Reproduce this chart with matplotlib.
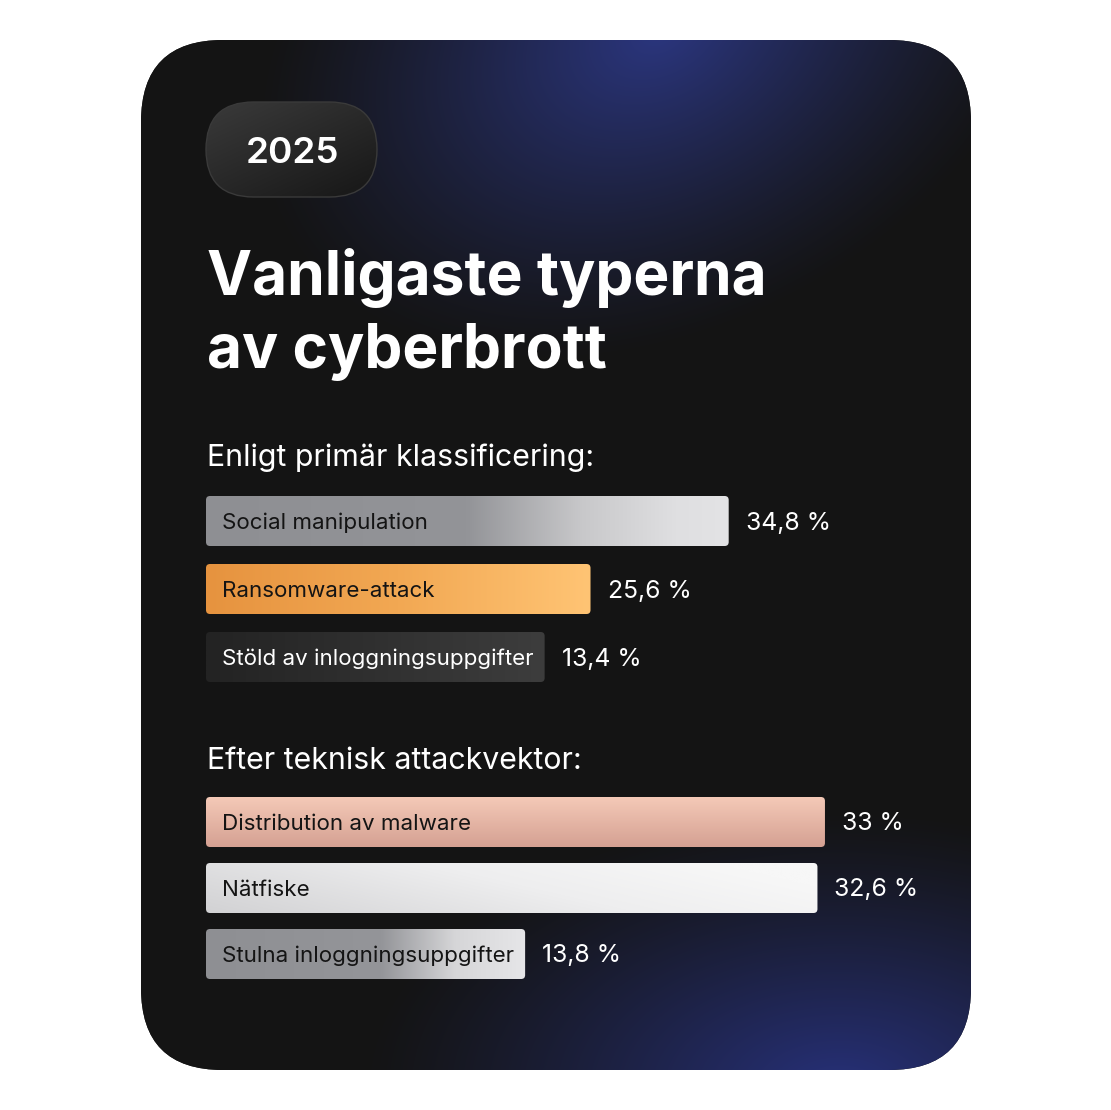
import numpy as np
import matplotlib
matplotlib.use("Agg")
import matplotlib.pyplot as plt
from matplotlib.patches import FancyBboxPatch
from matplotlib import transforms
from matplotlib.colors import to_rgb

# ---------------- data ----------------
year = "2025"
title_lines = ["Vanligaste typerna", "av cyberbrott"]
group1_title = "Enligt primär klassificering:"
group1_labels = ["Social manipulation", "Ransomware-attack", "Stöld av inloggningsuppgifter"]
group1_values = [34.8, 25.6, 13.4]
group2_title = "Efter teknisk attackvektor:"
group2_labels = ["Distribution av malware", "Nätfiske", "Stulna inloggningsuppgifter"]
group2_values = [33.0, 32.6, 13.8]

# ---------------- style ----------------
W, H, DPI = 1111, 1110, 100
FONT = ["Inter", "DejaVu Sans"]
plt.rcParams["font.family"] = FONT

# gradient specs: (direction, [(pos, color), ...], text colour)
group1_styles = [
    ("h", [(0, "#8e8f93"), (0.5, "#939498"), (0.72, "#c8c8ca"), (0.9, "#dfdfe1"), (1, "#e3e3e5")], "#141414"),
    ("h", [(0, "#e6933f"), (0.5, "#f2a853"), (1, "#ffc474")], "#141414"),
    ("h", [(0, "#232323"), (1, "#3d3d3d")], "#ffffff"),
]
group2_styles = [
    ("v", [(0, "#f4c9b7"), (1, "#d5a193")], "#141414"),
    ("d", [(0, "#d2d2d4"), (0.6, "#eeeeef"), (1, "#f7f7f7")], "#141414"),
    ("h", [(0, "#8e8f93"), (0.55, "#949599"), (0.78, "#d6d6d8"), (1, "#e6e6e8")], "#141414"),
]


def fmt(v):
    s = f"{v:.1f}".replace(".", ",")
    if s.endswith(",0"):
        s = s[:-2]
    return s + " %"


def ramp(stops, t):
    pos = [p for p, _ in stops]
    cols = np.array([to_rgb(c) for _, c in stops])
    return np.stack([np.interp(t, pos, cols[:, k]) for k in range(3)], axis=-1)


def grad_img(kind, stops, n=200, m=40):
    tx = np.linspace(0, 1, n)[None, :].repeat(m, 0)
    ty = np.linspace(0, 1, m)[:, None].repeat(n, 1)
    if kind == "h":
        t = tx
    elif kind == "v":
        t = ty
    else:
        t = np.clip(0.85 * tx + 0.3 * (1 - ty), 0, 1)
    return ramp(stops, t)


fig = plt.figure(figsize=(W / DPI, H / DPI), dpi=DPI)
fig.patch.set_facecolor("white")

# ---------------- background card (pixel space) ----------------
bg = fig.add_axes([0, 0, 1, 1])
bg.set_xlim(0, W)
bg.set_ylim(H, 0)
bg.axis("off")

cx0, cy0, cx1, cy1 = 141, 40, 971, 1070
card = FancyBboxPatch((cx0, cy0), cx1 - cx0, cy1 - cy0,
                      boxstyle="round,pad=0,rounding_size=82",
                      fc="#141414", ec="none", zorder=0)
bg.add_patch(card)

yy, xx = np.mgrid[cy0:cy1, cx0:cx1] + 0.5
base = np.array(to_rgb("#141414"))
b1 = np.array(to_rgb("#2b367f"))
b2 = np.array(to_rgb("#27317a"))
ang = np.deg2rad(-28)
dx, dy = xx - 660, yy - 30
u = dx * np.cos(ang) + dy * np.sin(ang)
v = -dx * np.sin(ang) + dy * np.cos(ang)
d1 = np.sqrt((u / 430) ** 2 + (v / 300) ** 2)
w1 = np.clip(1 - d1, 0, 1) ** 1.2
d2 = np.sqrt(((xx - 840) / 480) ** 2 + ((yy - 1090) / 280) ** 2)
w2 = np.clip(1 - d2, 0, 1) ** 1.2
glow = base + (b1 - base) * w1[..., None] + (b2 - base) * w2[..., None]
im = bg.imshow(np.clip(glow, 0, 1), extent=(cx0, cx1, cy1, cy0), zorder=1,
               interpolation="bilinear", aspect="auto")
im.set_clip_path(card)

# ---------------- year pill ----------------
px0, py0, pw, ph = 206, 102, 171, 95
pill = FancyBboxPatch((px0, py0), pw, ph, boxstyle=f"round,pad=0,rounding_size={ph/2}",
                      fc="none", ec="#3a3a3a", lw=1.0, zorder=3)
bg.add_patch(pill)
tx = np.linspace(0, 1, 120)[None, :].repeat(60, 0)
ty = np.linspace(0, 1, 60)[:, None].repeat(120, 1)
pimg = ramp([(0, "#3a3a3a"), (1, "#1a1a1a")], np.clip(0.5 * tx + 0.6 * ty, 0, 1))
pim = bg.imshow(pimg, extent=(px0, px0 + pw, py0 + ph, py0), zorder=2,
                interpolation="bilinear", aspect="auto")
pim.set_clip_path(pill)
bg.text(px0 + pw / 2 + 1, 163, year, color="white", fontsize=26.5, fontweight="semibold",
        ha="center", va="baseline", zorder=4)

# ---------------- title ----------------
bg.text(207, 295, title_lines[0], color="white", fontsize=43.5, fontweight="bold",
        va="baseline", zorder=4)
bg.text(207, 368, title_lines[1], color="white", fontsize=43.5, fontweight="bold",
        va="baseline", zorder=4)
bg.text(207, 466, group1_title, color="white", fontsize=21.8, va="baseline", zorder=4)
bg.text(207, 769, group2_title, color="white", fontsize=21.8, va="baseline", zorder=4)

bg.set_xlim(0, W)
bg.set_ylim(H, 0)


# ---------------- bar groups ----------------
def bar_group(top_px, row_px, xmax, labels, values, styles):
    left_px, right_px = 206, 960
    n = len(values)
    ax = fig.add_axes([left_px / W, (H - top_px - n * row_px) / H,
                       (right_px - left_px) / W, n * row_px / H])
    ax.set_xlim(0, xmax)
    ax.set_ylim(n - 0.5, -0.5)
    ax.axis("off")
    ax.patch.set_alpha(0)
    px_x = (right_px - left_px) / xmax
    px_y = row_px
    bar_h = 50 / row_px
    lab_off = transforms.offset_copy(ax.transData, fig=fig, x=16, y=-8, units="dots")
    texts = []
    for i, (lab, st) in enumerate(zip(labels, styles)):
        t = ax.text(0, i, lab, color=st[2], fontsize=16.1, va="baseline",
                    transform=lab_off, zorder=5)
        texts.append(t)
    fig.canvas.draw()
    r = fig.canvas.get_renderer()
    widths = []
    for v, t in zip(values, texts):
        tw = t.get_window_extent(r).width
        widths.append(max(v, (tw + 16 + 11) / px_x))
    bars = ax.barh(range(n), widths, height=bar_h, color="none", edgecolor="none")
    rad = 4
    for i, (rect, st, v) in enumerate(zip(bars, styles, values)):
        x0, y0 = rect.get_x(), rect.get_y()
        w, h = rect.get_width(), rect.get_height()
        clip = FancyBboxPatch((x0, y0), w, h,
                              boxstyle=f"round,pad=0,rounding_size={rad/px_x}",
                              mutation_aspect=px_x / px_y,
                              fc="none", ec="none", zorder=2)
        ax.add_patch(clip)
        gim = ax.imshow(grad_img(st[0], st[1]), extent=(x0, x0 + w, y0 + h, y0),
                        aspect="auto", interpolation="bilinear", zorder=3)
        gim.set_clip_path(clip)
        val_off = transforms.offset_copy(ax.transData, fig=fig, x=17, y=-8.5, units="dots")
        ax.text(x0 + w, i, fmt(v), color="white", fontsize=17.8, va="baseline",
                transform=val_off, zorder=5)
    ax.set_xlim(0, xmax)
    ax.set_ylim(n - 0.5, -0.5)
    return ax


bar_group(487, 68, 50.2, group1_labels, group1_values, group1_styles)
bar_group(789, 66, 40.2, group2_labels, group2_values, group2_styles)

fig.savefig("out.png", dpi=DPI, facecolor="white")
